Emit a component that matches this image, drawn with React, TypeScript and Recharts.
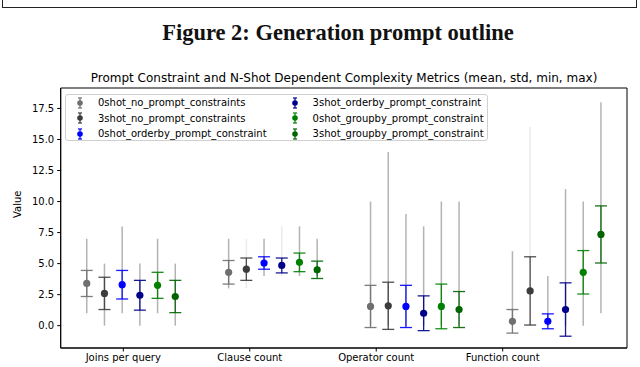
import React from 'react';
import { ScatterChart, Scatter, XAxis, YAxis, ErrorBar, ReferenceArea } from 'recharts';

const categories = ['Joins per query', 'Clause count', 'Operator count', 'Function count'];

const seriesNames = [
  '0shot_no_prompt_constraints',
  '3shot_no_prompt_constraints',
  '0shot_orderby_prompt_constraint',
  '3shot_orderby_prompt_constraint',
  '0shot_groupby_prompt_constraint',
  '3shot_groupby_prompt_constraint',
];
const seriesColors = ['#6f6f6f', '#3c3c3c', '#0000ff', '#00008b', '#008000', '#006400'];

// one row per series, one column per category
const meanValues = [
  [3.4, 4.3, 1.55, 0.35],
  [2.6, 4.55, 1.6, 2.8],
  [3.3, 5.05, 1.55, 0.35],
  [2.45, 4.85, 1.0, 1.3],
  [3.25, 5.1, 1.55, 4.3],
  [2.35, 4.5, 1.3, 7.35],
];
const stdValues = [
  [1.05, 0.95, 1.7, 0.95],
  [1.3, 0.9, 1.9, 2.75],
  [1.15, 0.5, 1.7, 0.6],
  [1.2, 0.6, 1.4, 2.15],
  [1.05, 0.75, 1.8, 1.75],
  [1.3, 0.7, 1.45, 2.3],
];
const minValues = [
  [1, 3, 0, 0],
  [0, 3, 0, 0],
  [1, 4, 0, 0],
  [0, 4, 0, 0],
  [1, 4, 0, 0],
  [0, 4, 0, 1],
];
const maxValues = [
  [7, 7, 10, 6],
  [5, 7, 14, 16],
  [8, 7, 9, 4],
  [5, 8, 8, 11],
  [7, 8, 10, 10],
  [5, 7, 10, 18],
];
const yTicks = [0, 2.5, 5, 7.5, 10, 12.5, 15, 17.5];

// min-max whiskers drawn very pale in the source (style only)
const faintRange = [
  [false, false, false, false],
  [false, true, false, true],
  [false, false, false, false],
  [false, true, false, false],
  [false, false, false, false],
  [false, false, false, false],
];

// x placement of the dodged points
const GROUP_STEP = 1.122;
const SERIES_STEP = 0.14;
const FIRST_OFFSET = -0.289;
const X_DOMAIN = [-0.495, 3.983];
const Y_DOMAIN = [-1.8, 19.15];

const FONT = '"DejaVu Sans", sans-serif';

const seriesData = seriesNames.map((name, j) =>
  categories.map((cat, i) => {
    const mean = meanValues[j][i];
    const std = stdValues[j][i];
    const range = [mean - minValues[j][i], maxValues[j][i] - mean];
    const faint = faintRange[j][i];
    return {
      x: i * GROUP_STEP + FIRST_OFFSET + j * SERIES_STEP,
      mean,
      std: [std, std],
      range: faint ? [0, 0] : range,
      rangeFaint: faint ? range : [0, 0],
    };
  })
);

const LegendIcon = ({ color }: { color: string }) => (
  <svg width={10} height={14} style={{ display: 'block' }}>
    <line x1={5} y1={2} x2={5} y2={12} stroke={color} strokeWidth={1.2} />
    <line x1={3} y1={2} x2={7} y2={2} stroke={color} strokeWidth={1.2} />
    <line x1={3} y1={12} x2={7} y2={12} stroke={color} strokeWidth={1.2} />
    <circle cx={5} cy={7} r={2.8} fill={color} />
  </svg>
);

const ChartLegend = () => {
  const cols = [seriesNames.slice(0, 3), seriesNames.slice(3)];
  return (
    <div
      style={{
        position: 'absolute',
        left: 65,
        top: 94,
        width: 421,
        height: 45,
        border: '1px solid #d0d0d0',
        borderRadius: 3,
        background: 'rgba(255,255,255,0.85)',
        fontFamily: FONT,
        fontSize: 10,
        color: '#000',
        display: 'flex',
      }}
    >
      {cols.map((col, c) => (
        <div key={c} style={{ marginLeft: c === 0 ? 9 : 23 }}>
          {col.map((name) => {
            const j = seriesNames.indexOf(name);
            return (
              <div key={name} style={{ display: 'flex', alignItems: 'center', height: 15.5 }}>
                <LegendIcon color={seriesColors[j]} />
                <span style={{ marginLeft: 13, whiteSpace: 'nowrap' }}>{name}</span>
              </div>
            );
          })}
        </div>
      ))}
    </div>
  );
};

export default function App() {
  return (
    <div style={{ position: 'absolute', left: 0, top: 0, width: 640, height: 367, background: '#fff', overflow: 'hidden' }}>
      <div style={{ position: 'absolute', left: 2, top: -20, width: 633, height: 26, border: '1.5px solid #222' }} />
      <div
        style={{
          position: 'absolute',
          left: 338,
          top: 19,
          transform: 'translateX(-50%)',
          whiteSpace: 'nowrap',
          fontFamily: '"Liberation Serif", serif',
          fontWeight: 'bold',
          fontSize: 22.5,
          lineHeight: '28px',
          color: '#111',
        }}
      >
        Figure 2: Generation prompt outline
      </div>
      <div
        style={{
          position: 'absolute',
          left: 344,
          top: 70,
          transform: 'translateX(-50%)',
          whiteSpace: 'nowrap',
          fontFamily: FONT,
          fontSize: 12,
          lineHeight: '16px',
          color: '#000',
        }}
      >
        Prompt Constraint and N-Shot Dependent Complexity Metrics (mean, std, min, max)
      </div>
      <div style={{ position: 'absolute', left: 0, top: 0 }}>
        <ScatterChart width={640} height={367} margin={{ top: 88, right: 13, bottom: 0, left: 10.7 }}>
          <XAxis
            type="number"
            dataKey="x"
            domain={X_DOMAIN}
            allowDataOverflow
            ticks={[0, 1, 2, 3]}
            tickFormatter={(v: number) => categories[Math.round(v)]}
            height={19}
            tickSize={3.5}
            tickMargin={2}
            stroke="#000"
            tick={{ fill: '#000', fontSize: 10, fontFamily: FONT }}
          />
          <YAxis
            type="number"
            dataKey="mean"
            domain={Y_DOMAIN}
            allowDataOverflow
            ticks={yTicks}
            tickFormatter={(v: number) => v.toFixed(1)}
            width={50}
            tickSize={3.5}
            tickMargin={3}
            stroke="#000"
            tick={{ fill: '#000', fontSize: 10, fontFamily: FONT }}
            label={{ value: 'Value', angle: -90, position: 'insideLeft', offset: 7, style: { fontSize: 10, fontFamily: FONT, fill: '#000' } }}
          />
          <ReferenceArea
            x1={X_DOMAIN[0]}
            x2={X_DOMAIN[1]}
            y1={Y_DOMAIN[0]}
            y2={Y_DOMAIN[1]}
            fill="none"
            stroke="#000"
            strokeWidth={1}
            ifOverflow="visible"
          />
          {seriesNames.map((name, j) => (
            <Scatter
              key={name}
              name={name}
              data={seriesData[j]}
              fill={seriesColors[j]}
              isAnimationActive={false}
              shape={(p: any) => <circle cx={p.cx} cy={p.cy} r={3.6} fill={seriesColors[j]} />}
            >
              <ErrorBar dataKey="rangeFaint" direction="y" width={0} stroke="#8a8a8a" strokeWidth={1.5} strokeOpacity={0.18} />
              <ErrorBar dataKey="range" direction="y" width={0} stroke="#8a8a8a" strokeWidth={1.5} strokeOpacity={0.65} />
              <ErrorBar dataKey="std" direction="y" width={6} stroke={seriesColors[j]} strokeWidth={1.3} strokeOpacity={0.9} />
            </Scatter>
          ))}
        </ScatterChart>
      </div>
      <ChartLegend />
    </div>
  );
}
